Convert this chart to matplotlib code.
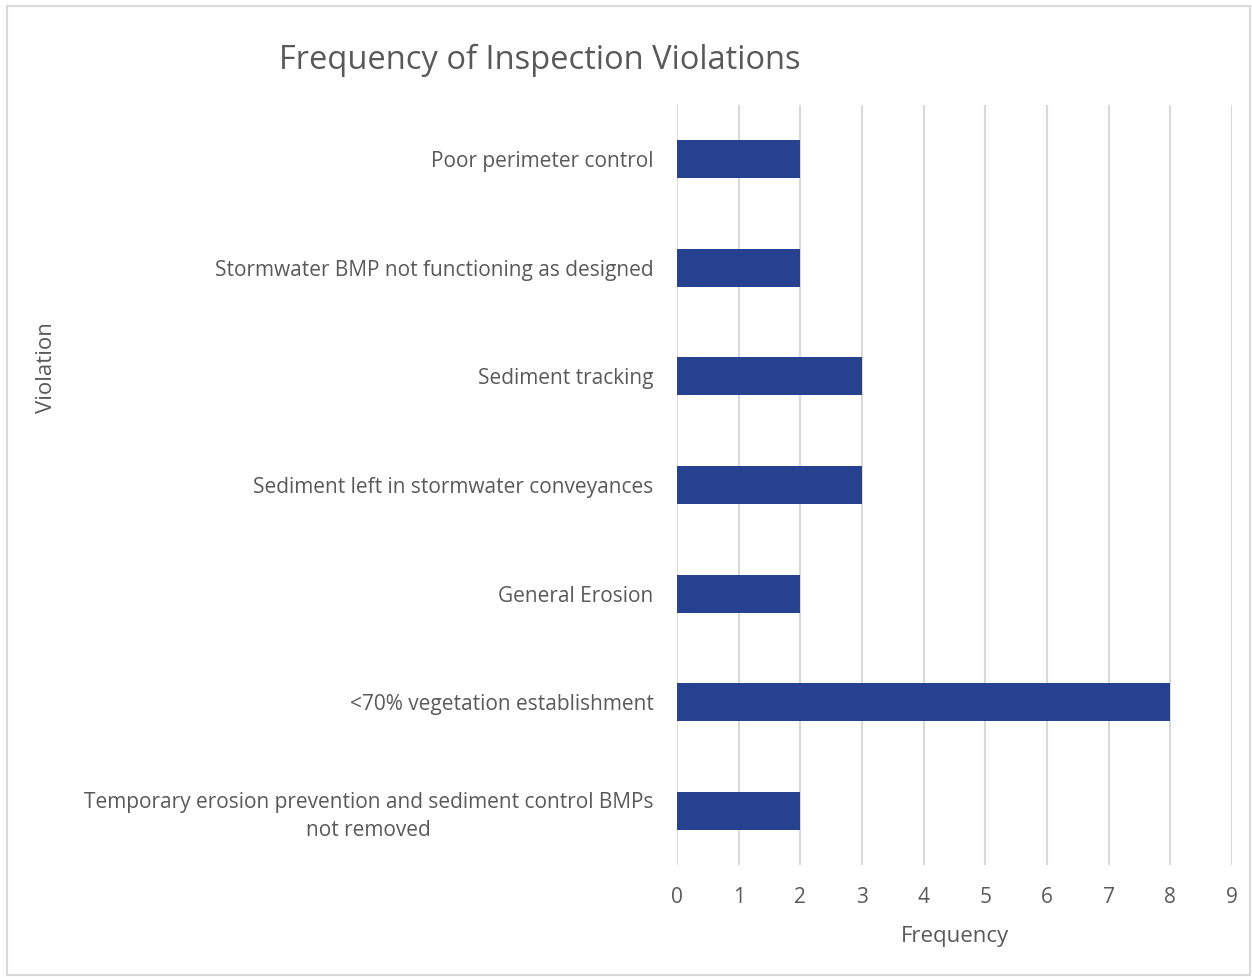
import numpy as np
import matplotlib.pyplot as plt
from matplotlib.patches import Rectangle

violations = [
    'Poor perimeter control',
    'Stormwater BMP not functioning as designed',
    'Sediment tracking',
    'Sediment left in stormwater conveyances',
    'General Erosion',
    '<70% vegetation establishment',
    'Temporary erosion prevention and sediment control BMPs\nnot removed',
]
frequency = [2, 2, 3, 3, 2, 8, 2]
x_ticks = list(range(0, 10))

text_color = '#595959'
bar_color = '#264190'

plt.rcParams['font.family'] = ['Open Sans', 'DejaVu Sans']

fig = plt.figure(figsize=(12.52, 9.77), dpi=100)
ax = fig.add_axes([677 / 1252, 1 - 865 / 977, 555 / 1252, 760 / 977])

y = np.arange(len(violations))
ax.barh(y, frequency, height=0.35, color=bar_color, zorder=3)

ax.set_xlim(0, 9)
ax.set_ylim(len(violations) - 0.5, -0.5)
ax.set_xticks(x_ticks)
ax.set_yticks(y)
ax.set_yticklabels(violations, multialignment='center', linespacing=1.4)

# vertical gridlines
ax.grid(axis='x', color='#d9d9d9', linewidth=1.5, zorder=0)
for s in ax.spines.values():
    s.set_visible(False)
ax.tick_params(axis='both', length=0, colors=text_color, labelsize=15)
ax.tick_params(axis='x', pad=16)
ax.tick_params(axis='y', pad=17)

ax.set_xlabel('Frequency', fontsize=16, color=text_color, labelpad=13)
fig.text(46 / 1252, 1 - 368 / 977, 'Violation', rotation=90, fontsize=16,
         color=text_color, ha='center', va='center')
fig.text(540 / 1252, 1 - 60 / 977, 'Frequency of Inspection Violations',
         fontsize=23.5, color=text_color, ha='center', va='center')

# chart border
fig.patches.append(Rectangle((7 / 1252, 2 / 977), 1243 / 1252, 969 / 977,
                             transform=fig.transFigure, fill=False,
                             edgecolor='#d9d9d9', linewidth=1.5))

fig.savefig('out.png', dpi=100)
